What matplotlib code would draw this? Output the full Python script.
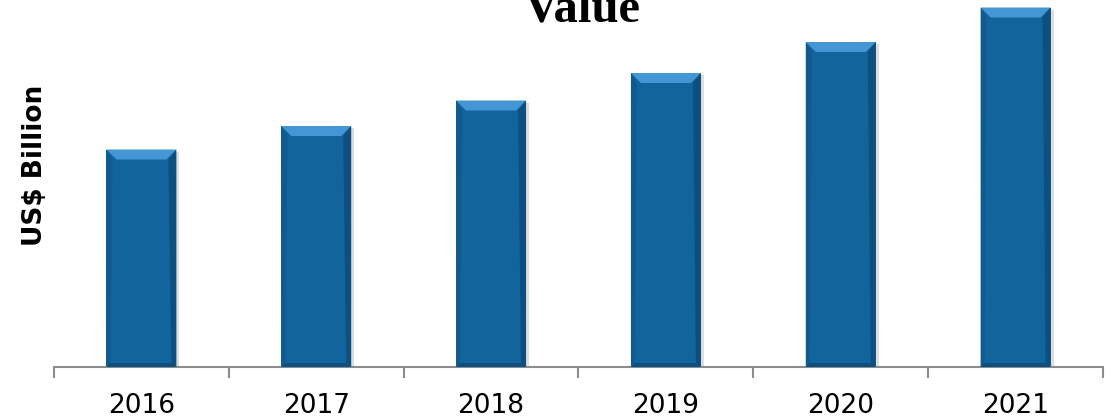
import numpy as np
import matplotlib.pyplot as plt
from matplotlib.patches import Polygon

years = ["2016", "2017", "2018", "2019", "2020", "2021"]
values = [21.75, 24.1, 26.65, 29.4, 32.5, 35.95]

face = "#11649c"
light = "#4596d4"
dark = "#0c4f80"

fig = plt.figure(figsize=(11.15, 4.19), dpi=100)
ax = fig.add_axes([54 / 1115, 1 - 367 / 419, (1103 - 54) / 1115, 367 / 419])

x = np.arange(len(years))
bars = ax.bar(x, values, width=0.4, color=face, zorder=2)
ax.set_xlim(-0.5, len(years) - 0.5)
ax.set_ylim(0, 36.7)

# bevel look, sizes worked out from the bar itself
px_x = (len(years)) / 1049.0
px_y = 36.7 / 367.0
bev = 10
for b in bars:
    x0, w, h = b.get_x(), b.get_width(), b.get_height()
    x1 = x0 + w
    dx, dy = bev * px_x, bev * px_y
    # shadow
    ax.add_patch(Polygon([(x0 + 2 * px_x, 0), (x1 + 3 * px_x, 0), (x1 + 3 * px_x, h - 2 * px_y),
                          (x0 + 2 * px_x, h - 2 * px_y)], closed=True, color="#bfbfbf", alpha=0.5, zorder=1, lw=0))
    ax.add_patch(Polygon([(x0, h), (x1, h), (x1 - dx, h - dy), (x0 + dx, h - dy)],
                         closed=True, color=light, zorder=3, lw=0))
    ax.add_patch(Polygon([(x0, 0), (x0 + 0.4 * dx, 0.4 * dy), (x0 + dx * 0.6, h - dy), (x0, h)],
                         closed=True, color="#125a8e", zorder=3, lw=0))
    ax.add_patch(Polygon([(x1, 0), (x1 - dx * 0.5, 0.4 * dy), (x1 - dx * 0.8, h - dy), (x1, h)],
                         closed=True, color=dark, zorder=3, lw=0))
    ax.add_patch(Polygon([(x0, 0), (x1, 0), (x1 - dx * 0.5, 0.4 * dy), (x0 + 0.4 * dx, 0.4 * dy)],
                         closed=True, color=dark, zorder=3, lw=0))

for s in ["top", "right", "left"]:
    ax.spines[s].set_visible(False)
ax.spines["bottom"].set_color("#8c8c8c")
ax.spines["bottom"].set_linewidth(1.5)
ax.set_yticks([])
ax.set_xticks(x)
ax.set_xticklabels(years, fontsize=19, family="DejaVu Sans")
ax.tick_params(axis="x", which="major", length=0, pad=19)
ax.set_xticks(np.arange(-0.5, len(years)), minor=True)
ax.tick_params(axis="x", which="minor", length=8, width=1.5, color="#8c8c8c", direction="out")
ax.patch.set_alpha(0)

fig.text(582 / 1115, 1 - 21 / 419, "Value", ha="center", va="baseline",
         fontsize=35, fontweight="bold", family="Liberation Serif")
fig.text(35 / 1115, 1 - 165 / 419, "US$ Billion", ha="center", va="center", rotation=90,
         fontsize=19, fontweight="bold", family="DejaVu Sans")

fig.savefig("out.png", dpi=100)
